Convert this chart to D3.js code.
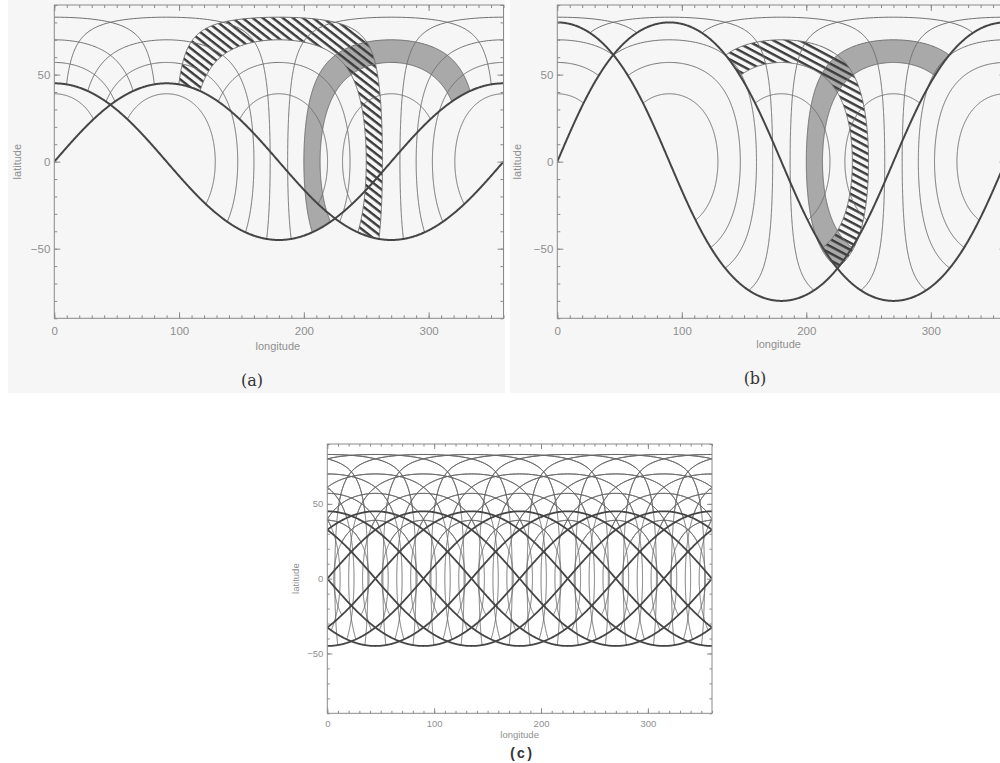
<!DOCTYPE html>
<html>
<head>
<meta charset="utf-8">
<script src="https://cdn.jsdelivr.net/npm/d3@7"></script>
<style>
  body { margin: 0; background: #fff; }
  svg { display: block; }
  text { font-family: "Liberation Sans", Arial, sans-serif; }
</style>
</head>
<body>
<svg id="fig" width="1000" height="763"></svg>
<script>
// ---- figure data -------------------------------------------------------
// angular radii (deg) of the rings drawn around every node point
const ringRadii = [39, 57, 70, 83];
// inclination (deg) of the boundary curves in each panel
const inclA = 45, inclB = 80, inclC = 45;
// ascending-node longitudes of the boundary curves in each panel
const nodesA = [0, 270];
const nodesB = [0, 270];
const nodesC = [0, 45, 90, 135, 180, 225, 270, 315];
// shaded rings: [ring centre lon, ascending node of its boundary, inner r, outer r]
const hatchedA = [180, 0, 70, 83];
const greyA    = [270, 270, 57, 70];
const hatchedB = [180, 0, 57, 70];
const greyB    = [270, 270, 57, 70];
// axis ticks
const lonTicks = [0, 100, 200, 300];
const latTicks = [-50, 0, 50];
const lonMinor = d3.range(0, 361, 10);
const latMinor = d3.range(-90, 91, 10);

// ---- geometry helpers --------------------------------------------------
const RAD = Math.PI / 180, DEG = 180 / Math.PI;

// boundary curve through the two nodes of an inclined circle
function boundary(incl, node) {
  const k = Math.tan(incl * RAD / 2);
  return lon => 2 * Math.atan(k * Math.sin((lon - node) * RAD)) * DEG;
}

// point at angular distance r, bearing th, from (c, 0)
function ringPoint(c, r, th) {
  const sr = Math.sin(r * RAD), cr = Math.cos(r * RAD);
  const lat = Math.asin(sr * Math.cos(th * RAD)) * DEG;
  const lon = c + Math.atan2(Math.sin(th * RAD) * sr, cr) * DEG;
  return [lon, lat];
}

// parts of the ring lying above its boundary curve
function visibleArcs(c, r, f) {
  const step = 0.5, n = 720;
  const isVis = th => { const p = ringPoint(c, r, th); return p[1] > f(p[0]); };
  const edge = (t0, t1) => {
    const v0 = isVis(t0);
    for (let k = 0; k < 30; k++) {
      const tm = (t0 + t1) / 2;
      if (isVis(tm) === v0) t0 = tm; else t1 = tm;
    }
    return ringPoint(c, r, (t0 + t1) / 2);
  };
  const vis = d3.range(n).map(i => isVis(i * step));
  const start = vis.indexOf(false);
  if (start < 0) return [d3.range(n + 1).map(i => ringPoint(c, r, i * step))];
  const runs = [];
  let cur = null;
  for (let j = 1; j <= n; j++) {
    const t = (start + j) * step, i = (start + j) % n;
    if (vis[i]) {
      if (!cur) cur = [edge(t - step, t)];
      cur.push(ringPoint(c, r, t));
    } else if (cur) {
      cur.push(edge(t - step, t));
      runs.push(cur);
      cur = null;
    }
  }
  if (cur) runs.push(cur);
  return runs;
}

const svg = d3.select('#fig');

// hatch patterns
const defs = svg.append('defs');
function hatchPattern(id, angle, gap, w) {
  const p = defs.append('pattern').attr('id', id)
    .attr('patternUnits', 'userSpaceOnUse')
    .attr('width', gap).attr('height', gap)
    .attr('patternTransform', `rotate(${angle})`);
  p.append('rect').attr('x', 0).attr('y', 0).attr('width', gap).attr('height', w)
    .attr('fill', '#3c3c3c');
}
hatchPattern('hatchA', 38, 6.2, 2.4);
hatchPattern('hatchB', 28, 6.2, 2.4);

// light backdrop behind the two upper panels
svg.append('rect').attr('x', 8).attr('y', 0).attr('width', 497).attr('height', 393).attr('fill', '#f6f6f6');
svg.append('rect').attr('x', 510).attr('y', 0).attr('width', 490).attr('height', 393).attr('fill', '#f6f6f6');

function drawPanel(p) {
  const x = d3.scaleLinear().domain([0, 360]).range([p.x0, p.x1]);
  const y = d3.scaleLinear().domain([-90, 90]).range([p.y0, p.y1]);
  const g = svg.append('g');
  const clipId = 'clip-' + p.name;
  defs.append('clipPath').attr('id', clipId).append('rect')
    .attr('x', p.x0).attr('y', p.y1).attr('width', p.x1 - p.x0).attr('height', p.y0 - p.y1);
  const plot = g.append('g').attr('clip-path', `url(#${clipId})`);
  const line = d3.line().x(d => x(d[0])).y(d => y(d[1]));

  const shifted = (pts, s) => pts.map(d => [d[0] + s, d[1]]);
  const shifts = [-360, 0, 360];

  // shaded rings
  (p.bands || []).forEach(b => {
    const [c, node, r1, r2] = b.ring;
    const f = boundary(p.incl, node);
    const outer = visibleArcs(c, r2, f)[0];
    const inner = visibleArcs(c, r1, f)[0];
    const poly = outer.concat(inner.slice().reverse());
    shifts.forEach(s => {
      plot.append('path').attr('d', line(shifted(poly, s)) + 'Z')
        .attr('fill', b.fill).attr('stroke', 'none');
    });
  });

  // rings around every node point, clipped by their own boundary curve
  p.nodes.forEach(node => {
    const f = boundary(p.incl, node);
    [node, node + 180].forEach(c => {
      ringRadii.forEach(r => {
        visibleArcs(c, r, f).forEach(arc => {
          shifts.forEach(s => {
            plot.append('path').attr('d', line(shifted(arc, s)))
              .attr('fill', 'none').attr('stroke', p.thinColor).attr('stroke-width', p.thin);
          });
        });
      });
    });
  });

  // boundary curves
  p.nodes.forEach(node => {
    const f = boundary(p.incl, node);
    const pts = d3.range(0, 360.01, 0.5).map(l => [l, f(l)]);
    plot.append('path').attr('d', line(pts)).attr('fill', 'none')
      .attr('stroke', '#454545').attr('stroke-width', p.thick);
  });

  // frame and ticks
  g.append('rect').attr('x', p.x0).attr('y', p.y1).attr('width', p.x1 - p.x0)
    .attr('height', p.y0 - p.y1).attr('fill', 'none').attr('stroke', '#8a8a8a').attr('stroke-width', 1);

  const tickStyle = sel => {
    sel.select('.domain').remove();
    sel.selectAll('line').attr('stroke', '#8a8a8a');
    sel.selectAll('text').attr('fill', '#8f8f8f').style('font-size', p.tickFont + 'px')
      .style('font-family', '"Liberation Sans", Arial, sans-serif');
  };
  const axes = [
    [d3.axisBottom(x).tickValues(lonTicks).tickSize(-p.major).tickPadding(p.xPad), `translate(0,${p.y0})`],
    [d3.axisBottom(x).tickValues(lonMinor).tickSize(-p.minor).tickFormat(''), `translate(0,${p.y0})`],
    [d3.axisTop(x).tickValues(lonTicks).tickSize(-p.major).tickFormat(''), `translate(0,${p.y1})`],
    [d3.axisTop(x).tickValues(lonMinor).tickSize(-p.minor).tickFormat(''), `translate(0,${p.y1})`],
    [d3.axisLeft(y).tickValues(latTicks).tickSize(-p.major).tickPadding(p.yPad), `translate(${p.x0},0)`],
    [d3.axisLeft(y).tickValues(latMinor).tickSize(-p.minor).tickFormat(''), `translate(${p.x0},0)`],
    [d3.axisRight(y).tickValues(latTicks).tickSize(-p.major).tickFormat(''), `translate(${p.x1},0)`],
    [d3.axisRight(y).tickValues(latMinor).tickSize(-p.minor).tickFormat(''), `translate(${p.x1},0)`]
  ];
  axes.forEach(([ax, tr]) => g.append('g').attr('transform', tr).call(ax.tickSizeOuter(0)).call(tickStyle));

  g.append('text').attr('x', (p.x0 + Math.min(p.x1, 1000)) / 2 + p.xLabelDx).attr('y', p.xLabelY)
    .attr('text-anchor', 'middle').attr('fill', '#8f8f8f').style('font-size', p.labelFont + 'px')
    .text('longitude');
  g.append('text').attr('transform', `translate(${p.yLabelX},${y(0)}) rotate(-90)`)
    .attr('text-anchor', 'middle').attr('fill', '#8f8f8f').style('font-size', p.labelFont + 'px')
    .text('latitude');
  g.append('text').attr('x', p.tagX).attr('y', p.tagY).attr('text-anchor', 'middle')
    .attr('fill', '#333').style('font-family', p.tagFamily).style('font-size', p.tagSize + 'px')
    .style('font-weight', p.tagWeight).text(p.tag);
}

drawPanel({
  name: 'a', incl: inclA, nodes: nodesA, x0: 54.3, x1: 503.5, y0: 318.3, y1: 5,
  bands: [{ ring: greyA, fill: '#a9a9a9' }, { ring: hatchedA, fill: 'url(#hatchA)' }],
  thin: 1, thinColor: '#707070', thick: 2, major: 6, minor: 3, xPad: 9, yPad: 4, tickFont: 11.5, labelFont: 11,
  xLabelY: 350, xLabelDx: -1, yLabelX: 21,
  tag: '(a)', tagX: 252, tagY: 386, tagFamily: '"DejaVu Serif", "Liberation Serif", serif', tagSize: 16, tagWeight: 'normal'
});
drawPanel({
  name: 'b', incl: inclB, nodes: nodesB, x0: 557.3, x1: 1005.5, y0: 318.3, y1: 5,
  bands: [{ ring: greyB, fill: '#a9a9a9' }, { ring: hatchedB, fill: 'url(#hatchB)' }],
  thin: 1, thinColor: '#707070', thick: 2, major: 6, minor: 3, xPad: 9, yPad: 4, tickFont: 11.5, labelFont: 11,
  xLabelY: 348, xLabelDx: 0, yLabelX: 521,
  tag: '(b)', tagX: 755, tagY: 384, tagFamily: '"DejaVu Serif", "Liberation Serif", serif', tagSize: 16, tagWeight: 'normal'
});
drawPanel({
  name: 'c', incl: inclC, nodes: nodesC, x0: 327.3, x1: 712, y0: 713.3, y1: 444,
  bands: [],
  thin: 0.9, thinColor: '#666', thick: 1.8, major: 5, minor: 2.5, xPad: 7, yPad: 4, tickFont: 9.5, labelFont: 9.5,
  xLabelY: 738, xLabelDx: 0, yLabelX: 299,
  tag: '(c)', tagX: 521, tagY: 758, tagFamily: '"Liberation Mono", "DejaVu Sans Mono", monospace', tagSize: 14, tagWeight: 'bold'
});
</script>
</body>
</html>
